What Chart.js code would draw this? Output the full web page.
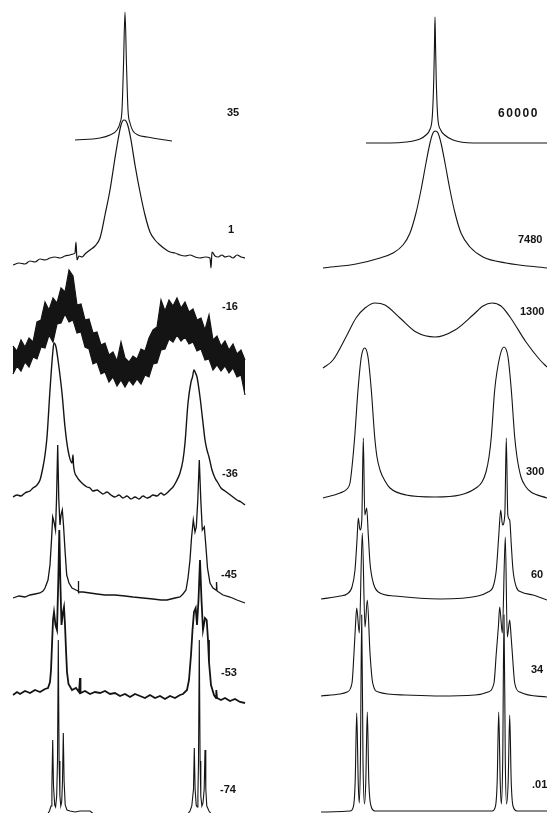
<!DOCTYPE html>
<html>
<head>
<meta charset="utf-8">
<script src="https://cdn.jsdelivr.net/npm/chart.js@4.4.1/dist/chart.umd.min.js"></script>
<style>
  html, body { margin: 0; padding: 0; background: #fff; }
  #wrap { position: relative; width: 547px; height: 813px; overflow: hidden; }
  canvas { position: absolute; top: 0; }
  #expChart { left: 0; }
  #simChart { left: 273px; }
</style>
</head>
<body>
<div id="wrap">
  <canvas id="expChart" width="273" height="813"></canvas>
  <canvas id="simChart" width="274" height="813"></canvas>
</div>
<script>
// Stacked exchange spectra: observed (left, temperatures) and computed (right, rate constants)
// every trace is [frequency offset, intensity] read off the figure

const tempLabels = ["35", "1", "-16", "-36", "-45", "-53", "-74"];
const rateLabels = ["60000", "7480", "1300", "300", "60", "34", ".01"];

// observed spectra
const exp35 = [[-50,0],[-25,2],[-15,5],[-8,10],[-5,17],[-3,30],[-1.5,75],[0,128],[1.5,75],[3,30],[5,17],[8,9],[13,5],[22,3],[47,-1]];
const exp1 = [[-112,-7],[-106,-5],[-100,-6],[-95,-3],[-90,-4],[-85,-1],[-80,-2],[-75,0],[-70,1],[-65,0],[-60,2],[-55,3],[-52,4],[-50,5],[-49,16],[-48,-2],[-46,2],[-43,1],[-40,4],[-35,8],[-30,12],[-25,20],[-20,43],[-15,68],[-10,100],[-7,118],[-4,133],[-1,138],[1,137],[3,132],[6,118],[10,93],[15,66],[20,43],[25,26],[30,18],[35,13],[40,9],[45,6],[50,5],[55,3],[60,2],[65,3],[70,1],[75,0],[80,1],[85,0],[86,-10],[87,6],[90,2],[93,1],[97,3],[100,1],[104,2],[108,0],[112,3],[116,1],[120,0]];
// -16 is a noise band: upper and lower edge at the same frequencies
const bandFreq = [-112,-108,-104,-100,-96,-92,-88,-84,-80,-76,-72,-68,-64,-60,-56,-52,-48,-44,-40,-36,-32,-28,-24,-20,-16,-12,-8,-4,0,4,8,12,16,20,24,28,32,36,40,44,48,52,56,60,64,68,72,76,80,84,88,92,96,100,104,108,112,116,120];
const bandTop = [14,9,20,13,22,18,38,40,58,50,62,57,72,68,90,84,55,56,40,41,27,28,15,17,5,8,-1,18,2,-2,4,1,11,9,22,30,33,60,49,60,54,62,52,58,48,51,40,42,30,45,20,24,14,19,10,16,6,10,0];
const bandBottom = [-14,-6,-11,-2,-7,3,1,13,12,25,18,36,37,46,38,40,27,28,13,11,-4,-2,-14,-12,-22,-17,-26,-20,-27,-20,-25,-19,-24,-15,-17,-4,-3,10,11,21,18,25,19,23,16,18,9,11,0,1,-10,-5,-11,-6,-13,-8,-17,-15,-35];
const exp36 = [[-112,-2],[-108,0],[-104,-1],[-100,2],[-98,3],[-95,4],[-92,7],[-89,9],[-85,15],[-82,28],[-80,40],[-78,58],[-75,105],[-72,145],[-71,152],[-69,148],[-67,135],[-63,102],[-60,68],[-57,45],[-53,32],[-52,40],[-51.5,30],[-48,18],[-45,14],[-42,11],[-38,8],[-35,7],[-32,4],[-28,5],[-25,3],[-22,1],[-18,3],[-14,0],[-10,-2],[-6,0],[-2,-3],[2,-1],[6,-4],[10,-2],[14,-4],[18,-1],[22,-3],[25,-2],[28,0],[32,-1],[36,2],[39,0],[42,2],[45,5],[48,8],[51,13],[55,22],[58,35],[60,52],[63,92],[66,113],[67.5,118],[69,125],[70.5,122],[72,118],[75,98],[78,72],[80,55],[82,45],[84,38],[87,25],[90,17],[93,12],[96,7],[100,4],[104,1],[108,-2],[112,-5],[116,-7],[120,-10]];
const exp45 = [[-112,-3],[-106,-1],[-100,-2],[-95,0],[-90,1],[-85,2],[-82,4],[-80,7],[-77,15],[-75,30],[-73.5,55],[-72.3,78],[-71,73],[-69.5,65],[-68.5,95],[-67.3,150],[-66.2,95],[-65,70],[-64,80],[-62.7,85],[-61.5,70],[-60,45],[-58.3,20],[-56,12],[-53,7],[-49,5],[-47,4],[-46.7,14],[-46.3,3],[-42,3],[-35,2],[-28,1],[-20,0],[-10,0],[0,-1],[8,-2],[18,-3],[28,-4],[36,-5],[42,-5],[50,-3],[55,-2],[58,1],[61,5],[63,17],[65,35],[66.5,57],[68.3,75],[70,63],[71.3,68],[72.8,95],[74.3,135],[75.8,95],[77.3,65],[79.3,68],[80.8,50],[82.5,27],[85,12],[88,7],[91,5],[91.5,13],[92,4],[98,0],[105,-2],[112,-5],[120,-8]];
const exp53 = [[-112,0],[-108,3],[-105,1],[-100,4],[-95,2],[-90,5],[-85,3],[-80,6],[-77,7],[-75,13],[-74,25],[-73,50],[-72,75],[-71,83],[-69.5,70],[-68,65],[-66.7,115],[-65.7,165],[-64.7,115],[-63.5,70],[-62,83],[-61,88],[-60,70],[-59,45],[-58,23],[-56.5,11],[-53,5],[-49,7],[-46,3],[-45,17],[-44.5,2],[-40,4],[-35,1],[-30,3],[-25,2],[-20,4],[-15,1],[-10,2],[-5,-1],[0,1],[5,-2],[10,1],[15,-1],[20,-3],[25,0],[30,-3],[35,-1],[40,-4],[45,-1],[50,-3],[55,0],[58,1],[62,5],[64,15],[66,40],[67.5,65],[69,83],[70.7,87],[72,70],[73.5,95],[75,135],[76.5,95],[78,65],[80,77],[81.7,75],[83,55],[84,33],[86,10],[89,0],[91,-3],[91.3,5],[92,-3],[96,-5],[100,-3],[105,-6],[110,-4],[115,-7],[120,-8]];
const exp74 = [[-112,-4],[-78,-4],[-75.5,0],[-74,5],[-73.1,25],[-72.3,71],[-71.5,25],[-70.3,6],[-69.4,4],[-68.3,15],[-67.5,50],[-66.7,171],[-65.9,50],[-65.1,15],[-64.2,5],[-63.3,9],[-62.5,30],[-61.7,78],[-60.9,30],[-59.8,6],[-58,1],[-55,0],[-50,-1],[-45,0],[-35,0],[-30,-4],[62,-4],[65,0],[66.8,5],[68.5,22],[69.3,63],[70.1,22],[71.2,6],[72.2,4],[72.9,15],[73.5,50],[74.3,171],[75.1,50],[75.8,15],[76.9,5],[78,8],[79.2,22],[80,61],[80.8,22],[81.8,5],[84,0],[87,-4],[120,-4]];

// computed spectra
const sim60000 = [[-69,0],[-45,0],[-29,1],[-15,4],[-9,8],[-5.3,13],[-3,23],[-2,40],[-1.2,65],[-0.5,100],[0,126],[0.5,100],[1.2,65],[2,40],[3,23],[5.7,13],[9.7,8],[18,3],[38,0],[71,0],[112,0]];
const sim7480 = [[-112,0],[-79,4],[-55,10],[-42,15],[-32,23],[-25,35],[-19,55],[-14,78],[-9,105],[-5,125],[-2,135],[0.3,137],[3,135],[6,125],[10,105],[15,78],[20,55],[26,35],[35,21],[48,11],[71,5],[112,0]];
const sim1300 = [[-112,0],[-102,8],[-89,31],[-79,50],[-70,60],[-60,65],[-50,63],[-35,50],[-19,36],[0,31],[20,38],[38,53],[48,62],[57,65],[66,62],[75,51],[91,26],[105,8],[112,1]];
const sim300 = [[-112,-3],[-95,2],[-88,6],[-85,12],[-83,28],[-80.3,58],[-77,105],[-73.7,138],[-70.3,147],[-67,138],[-63.7,105],[-60.3,58],[-58,38],[-55,25],[-50,14],[-45,7],[-29,0],[0,-2],[25,0],[41,7],[47,13],[51,23],[54,38],[56.3,58],[59.7,105],[64.7,138],[69,148],[73,138],[76.3,105],[79.7,58],[82,38],[86,18],[91,8],[96,3],[112,-3]];
const sim60 = [[-114,-2],[-95,1],[-88,3],[-83,10],[-80,27],[-78,57],[-76.7,79],[-75,67],[-73.2,77],[-71.7,159],[-70.2,82],[-68.3,89],[-66.7,62],[-65,34],[-61.7,14],[-56.7,5],[-40,1],[5,-2],[43,1],[53,5],[58,10],[61.3,27],[63.8,62],[65.7,87],[67.5,72],[69.8,82],[71.3,159],[72.8,82],[74.7,77],[76.3,52],[78,27],[81.3,10],[86.3,5],[98,2],[112,-3]];
const sim34 = [[-114,-1],[-95,1],[-88,3],[-83,12],[-81,42],[-79.5,70],[-78.3,87],[-75.7,62],[-72.7,162],[-70,68],[-67.7,95],[-65,42],[-62.3,12],[-56.7,3],[-30,0],[5,-1],[40,0],[53,3],[59,12],[61.3,42],[63.5,70],[64.7,88],[67.3,62],[70.3,158],[72.3,58],[74.7,75],[76,60],[77.3,42],[79.7,12],[84.7,3],[112,-2]];
const sim001 = [[-114,-1],[-85,0],[-81.5,5],[-79.8,30],[-78.3,98],[-76.8,30],[-75.8,8],[-74.6,50],[-73.3,196],[-72,50],[-70.5,7],[-69.2,30],[-67.7,99],[-66.2,30],[-64,5],[-60,0],[0,0],[57,0],[60.5,5],[62.2,30],[63.7,99],[65.2,30],[66.3,7],[67.7,50],[69,196],[70.3,50],[71.5,7],[73.2,30],[74.7,96],[76.2,30],[78,5],[82,0],[112,0]];

// layout of the stack (chart units, 0 = bottom of figure)
const expBaselines = [673, 555, 453, 318, 218, 118, 2];
const simBaselines = [670, 545, 445, 318, 216, 118, 2];
const expLabelX = [102, 103, 97, 97, 96, 96, 95];
const expLabelY = [700, 583, 506, 339, 238, 140, 23];
const simLabelX = [63, 83, 85, 91, 96, 96, 97];
const simLabelY = [699, 573, 501, 341, 238, 143, 28];

const INK = "#141414";

function stack(trace, base) {
    return trace.map(p => ({ x: p[0], y: base + p[1] }));
}

function lineSet(points, width, smooth) {
    return {
        data: points, borderColor: INK, borderWidth: width, fill: false,
        pointRadius: 0, tension: 0,
        cubicInterpolationMode: smooth ? "monotone" : "default"
    };
}

// draws the temperature / rate labels next to each trace
const labelPlugin = {
    id: "traceLabels",
    afterDatasetsDraw(chart, args, opts) {
        const { ctx, scales } = chart;
        ctx.save();
        ctx.fillStyle = INK;
        ctx.textBaseline = "middle";
        opts.texts.forEach((t, i) => {
            const big = opts.spacing && opts.spacing[i] > 0;
            ctx.font = (big ? "bold 12px" : "bold 11px") + ' "Liberation Sans", Arial, sans-serif';
            ctx.letterSpacing = (big ? opts.spacing[i] : 0) + "px";
            ctx.fillText(t, scales.x.getPixelForValue(opts.xs[i]), scales.y.getPixelForValue(opts.ys[i]));
        });
        ctx.restore();
    }
};

function makeChart(id, datasets, xMin, xMax, labelOpts) {
    return new Chart(document.getElementById(id), {
        type: "line",
        data: { datasets: datasets },
        options: {
            responsive: false,
            animation: false,
            layout: { padding: 0 },
            scales: {
                x: { type: "linear", min: xMin, max: xMax, display: false },
                y: { min: 0, max: 813, display: false }
            },
            plugins: {
                legend: { display: false },
                tooltip: { enabled: false },
                traceLabels: labelOpts
            }
        },
        plugins: [labelPlugin]
    });
}

// left column: observed
const expSets = [
    lineSet(stack(exp35, expBaselines[0]), 1.1, true),
    lineSet(stack(exp1, expBaselines[1]), 1.2, true),
    lineSet(bandFreq.map((f, i) => ({ x: f, y: expBaselines[2] + bandBottom[i] })), 1.2),
    Object.assign(lineSet(bandFreq.map((f, i) => ({ x: f, y: expBaselines[2] + bandTop[i] })), 1.2),
        { fill: "-1", backgroundColor: INK }),
    lineSet(stack(exp36, expBaselines[3]), 1.4, true),
    lineSet(stack(exp45, expBaselines[4]), 1.3),
    lineSet(stack(exp53, expBaselines[5]), 1.8),
    lineSet(stack(exp74, expBaselines[6]), 1.1)
];
makeChart("expChart", expSets, -125, 148, { texts: tempLabels, xs: expLabelX, ys: expLabelY });

// right column: computed
const simTraces = [sim60000, sim7480, sim1300, sim300, sim60, sim34, sim001];
const simSets = simTraces.map((t, i) => lineSet(stack(t, simBaselines[i]), 1.1, true));
makeChart("simChart", simSets, -162, 112, {
    texts: rateLabels, xs: simLabelX, ys: simLabelY, spacing: [1.5, 0, 0, 0, 0, 0, 0]
});
</script>
</body>
</html>
